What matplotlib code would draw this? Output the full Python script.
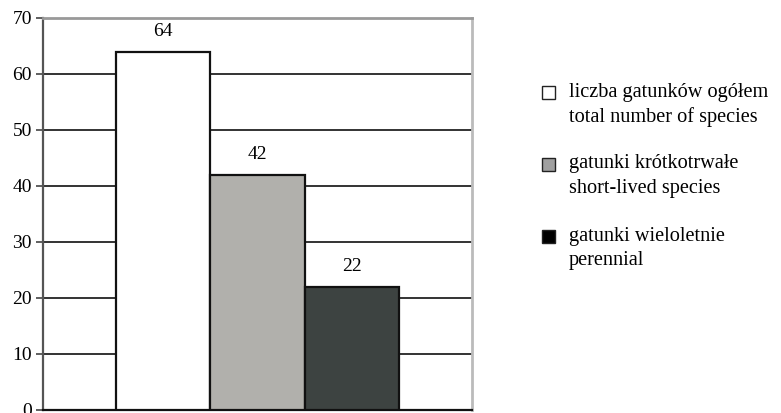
import matplotlib
matplotlib.use("Agg")
import matplotlib.pyplot as plt
from matplotlib.patches import Rectangle

# Data
series_pl = ["liczba gatunków ogółem", "gatunki krótkotrwałe", "gatunki wieloletnie"]
series_en = ["total number of species", "short-lived species", "perennial"]
values = [64, 42, 22]
bar_colors = ["#ffffff", "#b1b0ac", "#3d4341"]
legend_colors = ["#ffffff", "#a0a0a0", "#000000"]
yticks = [0, 10, 20, 30, 40, 50, 60, 70]

plt.rcParams["font.family"] = ["Liberation Serif", "DejaVu Serif"]

fig = plt.figure(figsize=(7.81, 4.13), dpi=100)
ax = fig.add_axes([0.0551, 0.0073, 0.5493, 0.9492])

bar_w = 0.22
offsets = [-bar_w, 0, bar_w]
for v, c, o in zip(values, bar_colors, offsets):
    ax.bar(o, v, width=bar_w, color=c, edgecolor="#111111", linewidth=1.6, zorder=3)
    ax.text(o, v + 2.1, str(v), ha="center", va="bottom", fontsize=14, zorder=4)

ax.set_xlim(-0.5, 0.5)
ax.set_ylim(0, 70)
ax.set_yticks(yticks)
ax.set_xticks([])
ax.tick_params(axis="y", labelsize=14, length=5, width=1.2, color="#444444", pad=3)
ax.yaxis.grid(True, color="#111111", linewidth=1.2, zorder=0)
ax.set_axisbelow(True)

ax.spines["left"].set_color("#555555")
ax.spines["left"].set_linewidth(1.6)
ax.spines["bottom"].set_color("#111111")
ax.spines["bottom"].set_linewidth(1.6)
ax.spines["top"].set_color("#999999")
ax.spines["top"].set_linewidth(2)
ax.spines["right"].set_color("#bbbbbb")
ax.spines["right"].set_linewidth(2)

# Legend drawn in figure pixel coordinates
W, H = 781, 413
first_y = 92
item_gap = 72
line_gap = 25
for i, (pl, en, c) in enumerate(zip(series_pl, series_en, legend_colors)):
    y = first_y + i * item_gap
    sq = 13
    fig.patches.append(Rectangle((542 / W, 1 - (y + sq / 2) / H), sq / W, sq / H,
                                 transform=fig.transFigure, facecolor=c,
                                 edgecolor="#222222", linewidth=1.0))
    fig.text(569 / W, 1 - y / H, pl, ha="left", va="center", fontsize=14.6)
    fig.text(569 / W, 1 - (y + line_gap) / H, en, ha="left", va="center", fontsize=14.6)

fig.savefig("out.png", dpi=100)
